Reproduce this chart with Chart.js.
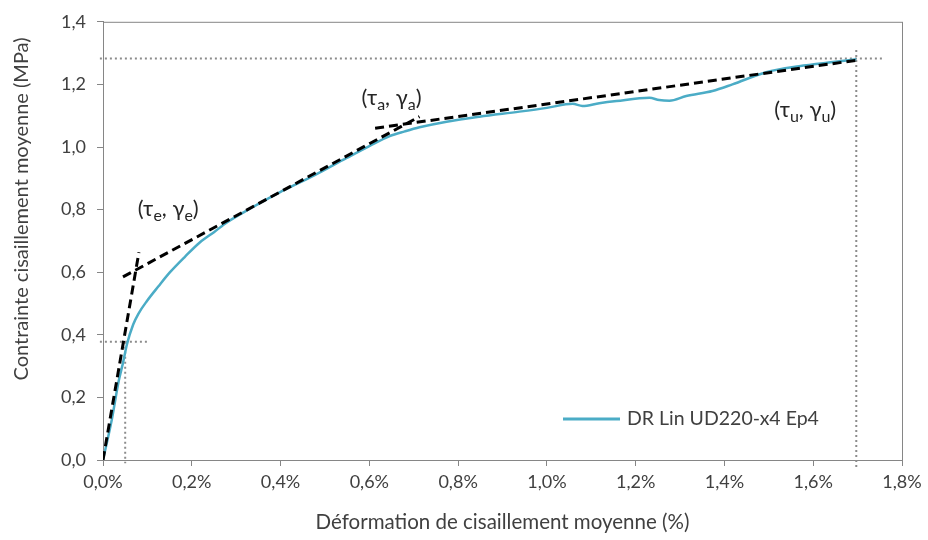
<!DOCTYPE html>
<html>
<head>
<meta charset="utf-8">
<script src="https://cdn.jsdelivr.net/npm/chart.js@4.4.1/dist/chart.umd.min.js"></script>
<style>
  html, body { margin: 0; padding: 0; background: #ffffff; }
  #wrap { width: 928px; height: 540px; position: relative; }
</style>
</head>
<body>
<div id="wrap"><canvas id="c" width="928" height="540"></canvas></div>
<script>
// ---- Data ----
const curveStrain = [0, 0.02, 0.035, 0.045, 0.054, 0.068, 0.08, 0.099, 0.125, 0.151, 0.185, 0.218, 0.25, 0.279, 0.33, 0.398, 0.47, 0.549, 0.6, 0.646, 0.68, 0.713, 0.774, 0.848, 0.938, 1.0, 1.058, 1.08, 1.118, 1.157, 1.231, 1.253, 1.276, 1.314, 1.373, 1.418, 1.494, 1.568, 1.65, 1.697];
const curveStress = [0, 0.13, 0.25, 0.31, 0.37, 0.433, 0.468, 0.508, 0.555, 0.60, 0.65, 0.695, 0.728, 0.759, 0.802, 0.855, 0.905, 0.965, 1.003, 1.035, 1.05, 1.063, 1.081, 1.097, 1.113, 1.125, 1.138, 1.131, 1.14, 1.147, 1.157, 1.150, 1.148, 1.163, 1.179, 1.20, 1.239, 1.258, 1.272, 1.28];

const elasticStrain = [0, 0.081];
const elasticStress = [0, 0.664];
const tangentAStrain = [0.045, 0.713];
const tangentAStress = [0.585, 1.097];
const tangentUStrain = [0.613, 1.697];
const tangentUStress = [1.06, 1.277];

const guideUHStrain = [-0.007, 1.76];
const guideUHStress = [1.283, 1.283];
const guideUVStrain = [1.697, 1.697];
const guideUVStress = [1.31, -0.03];
const guideEHStrain = [-0.007, 0.10];
const guideEHStress = [0.378, 0.378];
const guideEVStrain = [0.05, 0.05];
const guideEVStress = [0.378, -0.01];

const xTickValues = [0, 0.2, 0.4, 0.6, 0.8, 1.0, 1.2, 1.4, 1.6, 1.8];
const yTickValues = [0, 0.2, 0.4, 0.6, 0.8, 1.0, 1.2, 1.4];

const seriesLabel = 'DR Lin UD220-x4 Ep4';
const xTitle = 'Déformation de cisaillement moyenne (%)';
const yTitle = 'Contrainte cisaillement moyenne (MPa)';

// annotation labels: [main, sub, main, sub, close] anchored in data coordinates
const annotLabels = [
  { x: 0.147, y: 0.806, parts: ['(τ', 'e', ', γ', 'e', ')'] },
  { x: 0.65, y: 1.16, parts: ['(τ', 'a', ', γ', 'a', ')'] },
  { x: 1.582, y: 1.122, parts: ['(τ', 'u', ', γ', 'u', ')'] }
];

const FONT = 'Lato, "Open Sans", sans-serif';
const TEXT = '#404040';
const AXIS = '#868686';
const BLUE = '#4BACC6';

function pts(xs, ys) { return xs.map((x, i) => ({ x: x, y: ys[i] })); }

const dotted = { borderColor: '#8c8c8c', borderWidth: 2, borderDash: [2, 3], pointRadius: 0, showLine: true, fill: false, clip: false, order: 3 };
const dashed = { borderColor: '#000000', borderWidth: 3, borderDash: [9, 5], pointRadius: 0, showLine: true, fill: false, order: 0 };

const framePlugin = {
  id: 'frame',
  beforeDatasetsDraw(chart) {
    const { ctx, chartArea: a } = chart;
    ctx.save();
    ctx.strokeStyle = AXIS;
    ctx.lineWidth = 1;
    ctx.strokeRect(a.left + 0.5, a.top + 0.5, a.right - a.left, a.bottom - a.top);
    ctx.restore();
  },
  afterDraw(chart) {
    const { ctx, chartArea: a, scales } = chart;
    ctx.save();
    // y axis title
    ctx.fillStyle = TEXT;
    ctx.font = '20px ' + FONT;
    ctx.textAlign = 'center';
    ctx.textBaseline = 'middle';
    ctx.translate(22, 209);
    ctx.rotate(-Math.PI / 2);
    ctx.fillText(yTitle, 0, 0);
    ctx.restore();

    // annotations
    ctx.save();
    ctx.fillStyle = '#262626';
    ctx.textBaseline = 'alphabetic';
    annotLabels.forEach(lab => {
      const big = '22px ' + FONT, small = '16px ' + FONT;
      let w = 0;
      lab.parts.forEach((p, i) => { ctx.font = (i % 2 === 1) ? small : big; w += ctx.measureText(p).width; });
      let px = scales.x.getPixelForValue(lab.x) - w / 2;
      const py = scales.y.getPixelForValue(lab.y) + 8;
      lab.parts.forEach((p, i) => {
        const sub = i % 2 === 1;
        ctx.font = sub ? small : big;
        ctx.textAlign = 'left';
        ctx.fillText(p, px, sub ? py + 5 : py);
        px += ctx.measureText(p).width;
      });
    });
    ctx.restore();

    // legend (inside plot, lower right)
    ctx.save();
    const ly = a.bottom - 41;
    const lx = a.right - 339;
    ctx.strokeStyle = BLUE;
    ctx.lineWidth = 3;
    ctx.beginPath();
    ctx.moveTo(lx, ly);
    ctx.lineTo(lx + 57, ly);
    ctx.stroke();
    ctx.fillStyle = TEXT;
    ctx.font = '19.5px ' + FONT;
    ctx.textAlign = 'left';
    ctx.textBaseline = 'middle';
    ctx.fillText(seriesLabel, lx + 64, ly);
    ctx.restore();
  }
};

new Chart(document.getElementById('c'), {
  type: 'scatter',
  data: {
    datasets: [
      Object.assign({ data: pts(elasticStrain, elasticStress) }, dashed),
      Object.assign({ data: pts(tangentAStrain, tangentAStress) }, dashed),
      Object.assign({ data: pts(tangentUStrain, tangentUStress) }, dashed),
      { label: seriesLabel, data: pts(curveStrain, curveStress), borderColor: BLUE, borderWidth: 2.5, pointRadius: 0, showLine: true, fill: false, cubicInterpolationMode: 'monotone', order: 1 },
      Object.assign({ data: pts(guideUHStrain, guideUHStress) }, dotted),
      Object.assign({ data: pts(guideUVStrain, guideUVStress) }, dotted),
      Object.assign({ data: pts(guideEHStrain, guideEHStress) }, dotted),
      Object.assign({ data: pts(guideEVStrain, guideEVStress) }, dotted)
    ]
  },
  options: {
    responsive: false,
    animation: false,
    devicePixelRatio: 1,
    layout: { padding: { left: 0, right: 26, top: 16, bottom: 0 } },
    plugins: { legend: { display: false }, tooltip: { enabled: false } },
    scales: {
      x: {
        type: 'linear', min: 0, max: 1.8,
        afterBuildTicks: s => { s.ticks = xTickValues.map(v => ({ value: v })); },
        afterFit: s => { s.height = 80; },
        border: { display: true, color: AXIS, width: 1 },
        grid: { display: true, drawOnChartArea: false, drawTicks: true, tickLength: 6, color: AXIS },
        ticks: { color: TEXT, font: { family: FONT, size: 18 }, padding: 5, maxRotation: 0,
          callback: v => v.toFixed(1).replace('.', ',') + '%' },
        title: { display: true, text: xTitle, color: TEXT, font: { family: FONT, size: 20.5 }, padding: { top: 0, bottom: 5 } }
      },
      y: {
        type: 'linear', min: 0, max: 1.4,
        afterBuildTicks: s => { s.ticks = yTickValues.map(v => ({ value: v })); },
        afterFit: s => { s.width = 103; },
        border: { display: true, color: AXIS, width: 1 },
        grid: { display: true, drawOnChartArea: false, drawTicks: true, tickLength: 6, color: AXIS },
        ticks: { color: TEXT, font: { family: FONT, size: 18 }, padding: 11,
          callback: v => v.toFixed(1).replace('.', ',') }
      }
    }
  },
  plugins: [framePlugin]
});
</script>
</body>
</html>
